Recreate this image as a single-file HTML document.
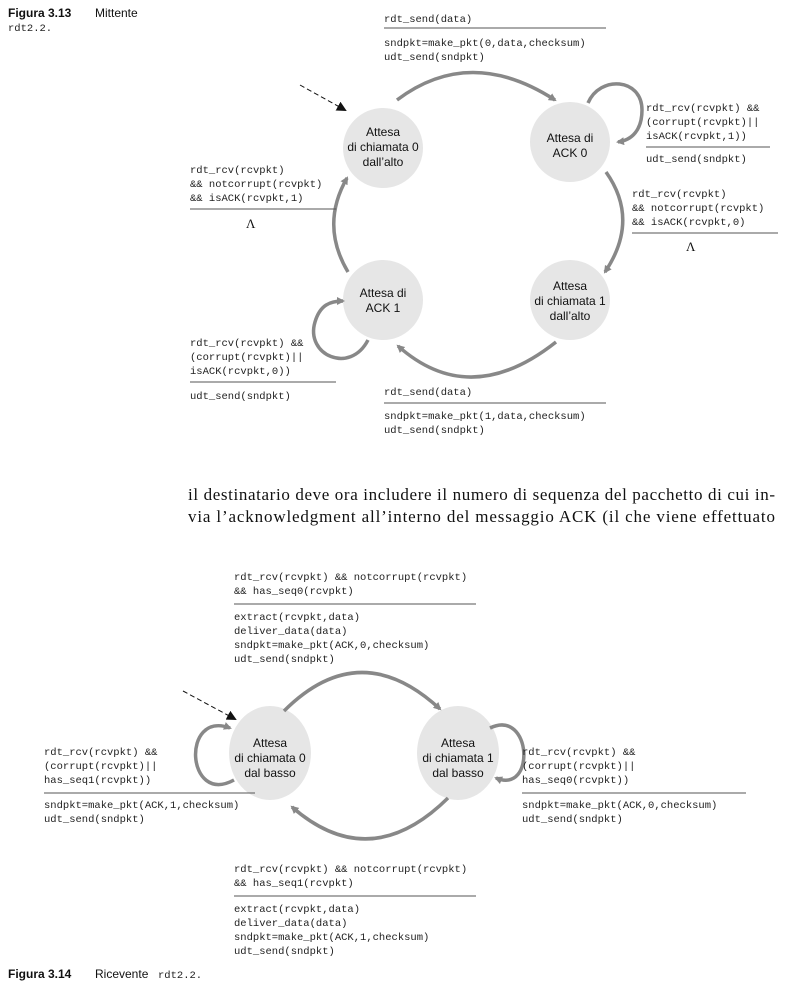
<!DOCTYPE html>
<html><head><meta charset="utf-8"><style>
html,body{margin:0;padding:0;background:#fff;}
svg text{font-family:"Liberation Mono",monospace;font-size:10.5px;fill:#222;}
svg .s{font-family:"Liberation Sans",sans-serif;font-size:12px;fill:#111;}
svg .p{font-family:"Liberation Serif",serif;font-size:17px;fill:#111;}
</style></head><body>
<svg width="792" height="987" viewBox="0 0 792 987" xmlns="http://www.w3.org/2000/svg">
<defs>
<marker id="a" markerWidth="8" markerHeight="8" refX="6" refY="4" orient="auto" markerUnits="userSpaceOnUse"><path d="M0,0 L8,4 L0,8 z" fill="#888"/></marker>
<marker id="d" markerWidth="10" markerHeight="10" refX="8" refY="5" orient="auto" markerUnits="userSpaceOnUse"><path d="M0,0 L10,5 L0,10 z" fill="#111"/></marker>
</defs>
<text class="s" x="8" y="17" style="font-weight:bold">Figura 3.13</text><text class="s" x="95" y="17">Mittente</text>
<text x="8" y="31">rdt2.2.</text>
<g fill="#e6e6e6">
<circle cx="383" cy="148" r="40"/><circle cx="570" cy="142" r="40"/>
<circle cx="570" cy="300" r="40"/><circle cx="383" cy="300" r="40"/>
<ellipse cx="270" cy="753" rx="41" ry="47"/><ellipse cx="458" cy="753" rx="41" ry="47"/>
</g>
<g class="s" text-anchor="middle">
<text class="s" x="383" y="136">Attesa</text><text class="s" x="383" y="151">di chiamata 0</text><text class="s" x="383" y="166">dall’alto</text>
<text class="s" x="570" y="142">Attesa di</text><text class="s" x="570" y="157">ACK 0</text>
<text class="s" x="570" y="290">Attesa</text><text class="s" x="570" y="305">di chiamata 1</text><text class="s" x="570" y="320">dall’alto</text>
<text class="s" x="383" y="297">Attesa di</text><text class="s" x="383" y="312">ACK 1</text>
<text class="s" x="270" y="747">Attesa</text><text class="s" x="270" y="762">di chiamata 0</text><text class="s" x="270" y="777">dal basso</text>
<text class="s" x="458" y="747">Attesa</text><text class="s" x="458" y="762">di chiamata 1</text><text class="s" x="458" y="777">dal basso</text>
</g>
<g fill="none" stroke="#888" stroke-width="3.5" marker-end="url(#a)">
<path d="M397,100 Q470,45 555,100"/>
<path d="M588,103 C600,75 642,78 642,110 C642,130 632,140 618,142"/>
<path d="M606,172 Q640,220 605,272"/>
<path d="M556,342 Q470,410 398,346"/>
<path d="M368,340 C350,375 305,355 315,322 C320,305 330,301 343,301"/>
<path d="M348,272 Q320,225 347,178"/>
<path d="M284,711 Q360,635 440,709"/>
<path d="M490,728 C532,708 536,795 496,778"/>
<path d="M234,780 C186,806 181,710 230,728"/>
<path d="M448,798 Q370,875 292,807"/>
</g>
<line x1="300" y1="85" x2="345" y2="110" stroke="#111" stroke-dasharray="5,3" stroke-width="1" marker-end="url(#d)"/>
<line x1="183" y1="691" x2="235" y2="719" stroke="#111" stroke-dasharray="5,3" stroke-width="1" marker-end="url(#d)"/>
<g stroke="#555" stroke-width="1">
<line x1="384" y1="28" x2="606" y2="28"/>
<line x1="646" y1="147" x2="770" y2="147"/>
<line x1="632" y1="233" x2="778" y2="233"/>
<line x1="190" y1="209" x2="336" y2="209"/>
<line x1="190" y1="382" x2="336" y2="382"/>
<line x1="384" y1="403" x2="606" y2="403"/>
<line x1="234" y1="604" x2="476" y2="604"/>
<line x1="44" y1="793" x2="255" y2="793"/>
<line x1="522" y1="793" x2="746" y2="793"/>
<line x1="234" y1="896" x2="476" y2="896"/>
</g>
<text x="384" y="22">rdt_send(data)</text>
<text x="384" y="46">sndpkt=make_pkt(0,data,checksum)</text><text x="384" y="60">udt_send(sndpkt)</text>
<text x="646" y="111">rdt_rcv(rcvpkt) &amp;&amp;</text><text x="646" y="125">(corrupt(rcvpkt)||</text><text x="646" y="139">isACK(rcvpkt,1))</text>
<text x="646" y="162">udt_send(sndpkt)</text>
<text x="632" y="197">rdt_rcv(rcvpkt)</text><text x="632" y="211">&amp;&amp; notcorrupt(rcvpkt)</text><text x="632" y="225">&amp;&amp; isACK(rcvpkt,0)</text>
<text class="p" x="686" y="251" style="font-size:13px">Λ</text>
<text x="190" y="173">rdt_rcv(rcvpkt)</text><text x="190" y="187">&amp;&amp; notcorrupt(rcvpkt)</text><text x="190" y="201">&amp;&amp; isACK(rcvpkt,1)</text>
<text class="p" x="246" y="228" style="font-size:13px">Λ</text>
<text x="190" y="346">rdt_rcv(rcvpkt) &amp;&amp;</text><text x="190" y="360">(corrupt(rcvpkt)||</text><text x="190" y="374">isACK(rcvpkt,0))</text>
<text x="190" y="399">udt_send(sndpkt)</text>
<text x="384" y="395">rdt_send(data)</text>
<text x="384" y="419">sndpkt=make_pkt(1,data,checksum)</text><text x="384" y="433">udt_send(sndpkt)</text>
<text class="p" x="188" y="500" textLength="587" lengthAdjust="spacing">il destinatario deve ora includere il numero di sequenza del pacchetto di cui in-</text>
<text class="p" x="188" y="522" textLength="587" lengthAdjust="spacing">via l’acknowledgment all’interno del messaggio ACK (il che viene effettuato</text>
<text x="234" y="580">rdt_rcv(rcvpkt) &amp;&amp; notcorrupt(rcvpkt)</text><text x="234" y="594">&amp;&amp; has_seq0(rcvpkt)</text>
<text x="234" y="620">extract(rcvpkt,data)</text><text x="234" y="634">deliver_data(data)</text><text x="234" y="648">sndpkt=make_pkt(ACK,0,checksum)</text><text x="234" y="662">udt_send(sndpkt)</text>
<text x="44" y="755">rdt_rcv(rcvpkt) &amp;&amp;</text><text x="44" y="769">(corrupt(rcvpkt)||</text><text x="44" y="783">has_seq1(rcvpkt))</text>
<text x="44" y="808">sndpkt=make_pkt(ACK,1,checksum)</text><text x="44" y="822">udt_send(sndpkt)</text>
<text x="522" y="755">rdt_rcv(rcvpkt) &amp;&amp;</text><text x="522" y="769">(corrupt(rcvpkt)||</text><text x="522" y="783">has_seq0(rcvpkt))</text>
<text x="522" y="808">sndpkt=make_pkt(ACK,0,checksum)</text><text x="522" y="822">udt_send(sndpkt)</text>
<text x="234" y="872">rdt_rcv(rcvpkt) &amp;&amp; notcorrupt(rcvpkt)</text><text x="234" y="886">&amp;&amp; has_seq1(rcvpkt)</text>
<text x="234" y="912">extract(rcvpkt,data)</text><text x="234" y="926">deliver_data(data)</text><text x="234" y="940">sndpkt=make_pkt(ACK,1,checksum)</text><text x="234" y="954">udt_send(sndpkt)</text>
<text class="s" x="8" y="978" style="font-weight:bold">Figura 3.14</text><text class="s" x="95" y="978">Ricevente</text><text x="158" y="978">rdt2.2.</text>
</svg>
</body></html>
